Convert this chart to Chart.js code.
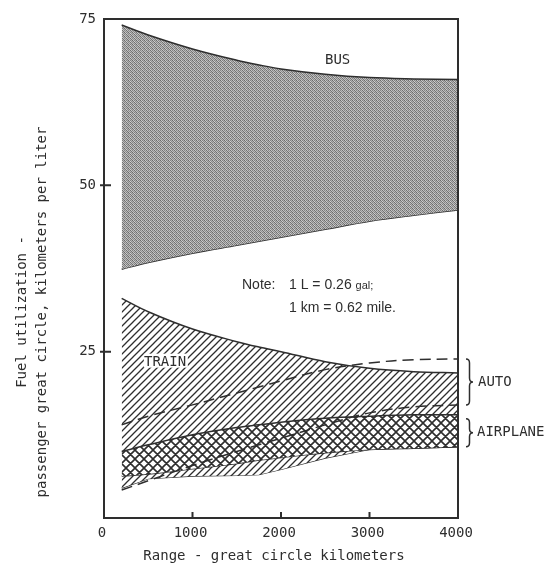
<!DOCTYPE html>
<html>
<head>
<meta charset="utf-8">
<script src="https://cdn.jsdelivr.net/npm/chart.js@4.4.1/dist/chart.umd.min.js"></script>
<style>
  body { margin: 0; background: #fff; }
  canvas { display: block; }
</style>
</head>
<body>
<canvas id="fuel-chart" width="547" height="565"></canvas>
<script>
// range in great circle km, values in passenger-km per liter
const rangeKm = [200, 500, 1000, 1500, 1750, 2000, 2500, 3000, 3500, 4000];

const busUpper = [74.1, 72.6, 70.5, 68.8, 68.1, 67.5, 66.7, 66.2, 66.0, 65.9];
const busLower = [37.4, 38.4, 39.8, 41.0, 41.6, 42.2, 43.4, 44.6, 45.5, 46.3];
const trainUpper = [33.0, 31.0, 28.4, 26.5, 25.7, 25.0, 23.5, 22.5, 22.0, 21.8];
const trainLower = [4.5, 5.9, 6.3, 6.4, 6.5, 7.3, 9.0, 10.3, 10.5, 10.7];
const autoUpper = [14.0, 15.3, 17.0, 18.8, 19.7, 20.6, 22.3, 23.3, 23.8, 23.9];
const autoLower = [4.2, 5.6, 7.9, 10.0, 11.0, 12.0, 14.0, 15.8, 16.7, 17.0];
const airplaneUpper = [10.0, 11.0, 12.5, 13.6, 14.0, 14.4, 15.0, 15.3, 15.5, 15.5];
const airplaneLower = [6.3, 6.6, 7.4, 8.2, 8.7, 9.1, 9.8, 10.3, 10.5, 10.7];

const xTicks = [0, 1000, 2000, 3000, 4000];
const yTicks = [0, 25, 50, 75];

const INK = '#2e2e2e';
const MONO = "'DejaVu Sans Mono', monospace";

function points(values) {
    return rangeKm.map((km, i) => ({ x: km, y: values[i] }));
}

function makePattern(size, draw) {
    const tile = document.createElement('canvas');
    tile.width = size;
    tile.height = size;
    const g = tile.getContext('2d');
    draw(g, size);
    return g.createPattern(tile, 'repeat');
}

// mottled dot screen for the bus band
const busShades = [
    [0x6a, 0xc8, 0x80, 0xb4],
    [0xb0, 0x78, 0xd0, 0x8a],
    [0x84, 0xbc, 0x70, 0xc4],
    [0xc0, 0x90, 0xb8, 0x74]
];
const busFill = makePattern(4, (g) => {
    busShades.forEach((row, r) => row.forEach((v, c) => {
        g.fillStyle = `rgb(${v},${v},${v})`;
        g.fillRect(c, r, 1, 1);
    }));
});

// single hatching for train
const trainFill = makePattern(7, (g, s) => {
    g.fillStyle = '#fff';
    g.fillRect(0, 0, s, s);
    g.strokeStyle = INK;
    g.lineWidth = 1.3;
    g.beginPath();
    g.moveTo(-1, s + 1); g.lineTo(s + 1, -1);
    g.moveTo(-1, 1); g.lineTo(1, -1);
    g.moveTo(s - 1, s + 1); g.lineTo(s + 1, s - 1);
    g.stroke();
});

// cross hatching for airplane
const airplaneFill = makePattern(9, (g, s) => {
    g.fillStyle = '#fff';
    g.fillRect(0, 0, s, s);
    g.strokeStyle = INK;
    g.lineWidth = 1.6;
    g.beginPath();
    g.moveTo(-1, s + 1); g.lineTo(s + 1, -1);
    g.moveTo(-1, 1); g.lineTo(1, -1);
    g.moveTo(s - 1, s + 1); g.lineTo(s + 1, s - 1);
    g.moveTo(-1, -1); g.lineTo(s + 1, s + 1);
    g.moveTo(s - 1, -1); g.lineTo(s + 1, 1);
    g.moveTo(-1, s - 1); g.lineTo(1, s + 1);
    g.stroke();
});

function brace(ctx, x, y1, y2) {
    const w = 7, r = 4, m = (y1 + y2) / 2;
    ctx.beginPath();
    ctx.moveTo(x, y1);
    ctx.quadraticCurveTo(x + w / 2, y1, x + w / 2, y1 + r);
    ctx.lineTo(x + w / 2, m - r);
    ctx.quadraticCurveTo(x + w / 2, m, x + w, m);
    ctx.quadraticCurveTo(x + w / 2, m, x + w / 2, m + r);
    ctx.lineTo(x + w / 2, y2 - r);
    ctx.quadraticCurveTo(x + w / 2, y2, x, y2);
    ctx.stroke();
}

const decorations = {
    id: 'decorations',
    afterDraw(chart) {
        const { ctx, chartArea: a, scales: { x, y } } = chart;
        ctx.save();
        ctx.strokeStyle = INK;
        ctx.fillStyle = INK;

        // frame
        ctx.lineWidth = 2;
        ctx.strokeRect(a.left, a.top, a.right - a.left, a.bottom - a.top);

        // tick marks pointing into the plot
        ctx.beginPath();
        yTicks.slice(1, -1).forEach(v => {
            const py = y.getPixelForValue(v);
            ctx.moveTo(a.left - 4, py);
            ctx.lineTo(a.left + 7, py);
        });
        xTicks.slice(1, -1).forEach(v => {
            const px = x.getPixelForValue(v);
            ctx.moveTo(px, a.bottom);
            ctx.lineTo(px, a.bottom - 6);
        });
        ctx.stroke();

        // braces at the right edge
        ctx.lineWidth = 1.5;
        const last = rangeKm.length - 1;
        const autoTop = y.getPixelForValue(autoUpper[last]);
        const autoBot = y.getPixelForValue(autoLower[last]);
        const airTop = y.getPixelForValue(airplaneUpper[last]) + 4;
        const airBot = y.getPixelForValue(airplaneLower[last]);
        brace(ctx, a.right + 8, autoTop, autoBot);
        brace(ctx, a.right + 8, airTop, airBot);

        ctx.textBaseline = 'middle';
        ctx.font = '14px ' + MONO;
        ctx.textAlign = 'left';
        ctx.fillText('AUTO', a.right + 20, (autoTop + autoBot) / 2);
        ctx.fillText('AIRPLANE', a.right + 19, (airTop + airBot) / 2);

        ctx.textAlign = 'center';
        ctx.fillText('BUS', x.getPixelForValue(2640), y.getPixelForValue(68.8));
        ctx.fillStyle = '#fff';
        ctx.fillRect(x.getPixelForValue(450), y.getPixelForValue(24.7), 44, 14);
        ctx.fillStyle = INK;
        ctx.fillText('TRAIN', x.getPixelForValue(690), y.getPixelForValue(23.4));

        // note
        ctx.textAlign = 'left';
        ctx.font = '14px "Liberation Sans", Arial, sans-serif';
        ctx.fillText('Note:', 242, 285);
        ctx.fillText('1 L = 0.26', 289, 285);
        const w1 = ctx.measureText('1 L = 0.26 ').width;
        ctx.font = '11px "Liberation Sans", Arial, sans-serif';
        ctx.fillText('gal;', 289 + w1, 286);
        ctx.font = '14px "Liberation Sans", Arial, sans-serif';
        ctx.fillText('1 km = 0.62 mile.', 289, 308);

        // axis titles
        ctx.font = '14px ' + MONO;
        ctx.textAlign = 'center';
        ctx.fillText('Range - great circle kilometers', 274, 556);
        ctx.translate(0, 312);
        ctx.rotate(-Math.PI / 2);
        ctx.fillText('Fuel utilization -', 0, 22);
        ctx.fillText('passenger great circle, kilometers per liter', 0, 42);
        ctx.restore();
    }
};

function band(values, order, extra) {
    return Object.assign({
        data: points(values),
        order: order,
        borderColor: INK,
        borderWidth: 1.5,
        pointRadius: 0,
        fill: false,
        tension: 0.35
    }, extra || {});
}

const ctx = document.getElementById('fuel-chart').getContext('2d');
const chart = new Chart(ctx, {
    type: 'line',
    data: {
        datasets: [
            band(autoUpper, 0, { borderDash: [11, 6] }),
            band(autoLower, 1, { borderDash: [11, 6] }),
            band(airplaneUpper, 2, { fill: '+1', backgroundColor: airplaneFill }),
            band(airplaneLower, 3),
            band(trainUpper, 4, { fill: '+1', backgroundColor: trainFill }),
            band(trainLower, 5, { borderWidth: 1.2, tension: 0 }),
            band(busUpper, 6, { fill: '+1', backgroundColor: busFill }),
            band(busLower, 7)
        ]
    },
    options: {
        responsive: false,
        animation: false,
        layout: { padding: { top: 19, right: 89, left: 0, bottom: 0 } },
        plugins: { legend: { display: false }, tooltip: { enabled: false } },
        scales: {
            x: {
                type: 'linear',
                min: 0,
                max: 4000,
                afterFit: (scale) => { scale.height = 47; },
                afterBuildTicks: (scale) => { scale.ticks = xTicks.map(v => ({ value: v })); },
                grid: { display: false, drawTicks: false },
                border: { display: false },
                ticks: {
                    padding: 7,
                    labelOffset: -2,
                    color: INK,
                    font: { family: MONO, size: 14 },
                    callback: (v) => String(v)
                }
            },
            y: {
                type: 'linear',
                min: 0,
                max: 75,
                afterFit: (scale) => { scale.width = 104; },
                afterBuildTicks: (scale) => { scale.ticks = yTicks.map(v => ({ value: v })); },
                grid: { display: false, drawTicks: false },
                border: { display: false },
                ticks: {
                    padding: 8,
                    color: INK,
                    font: { family: MONO, size: 14 },
                    callback: (v) => v === 0 ? '' : String(v)
                }
            }
        }
    },
    plugins: [decorations]
});
</script>
</body>
</html>
